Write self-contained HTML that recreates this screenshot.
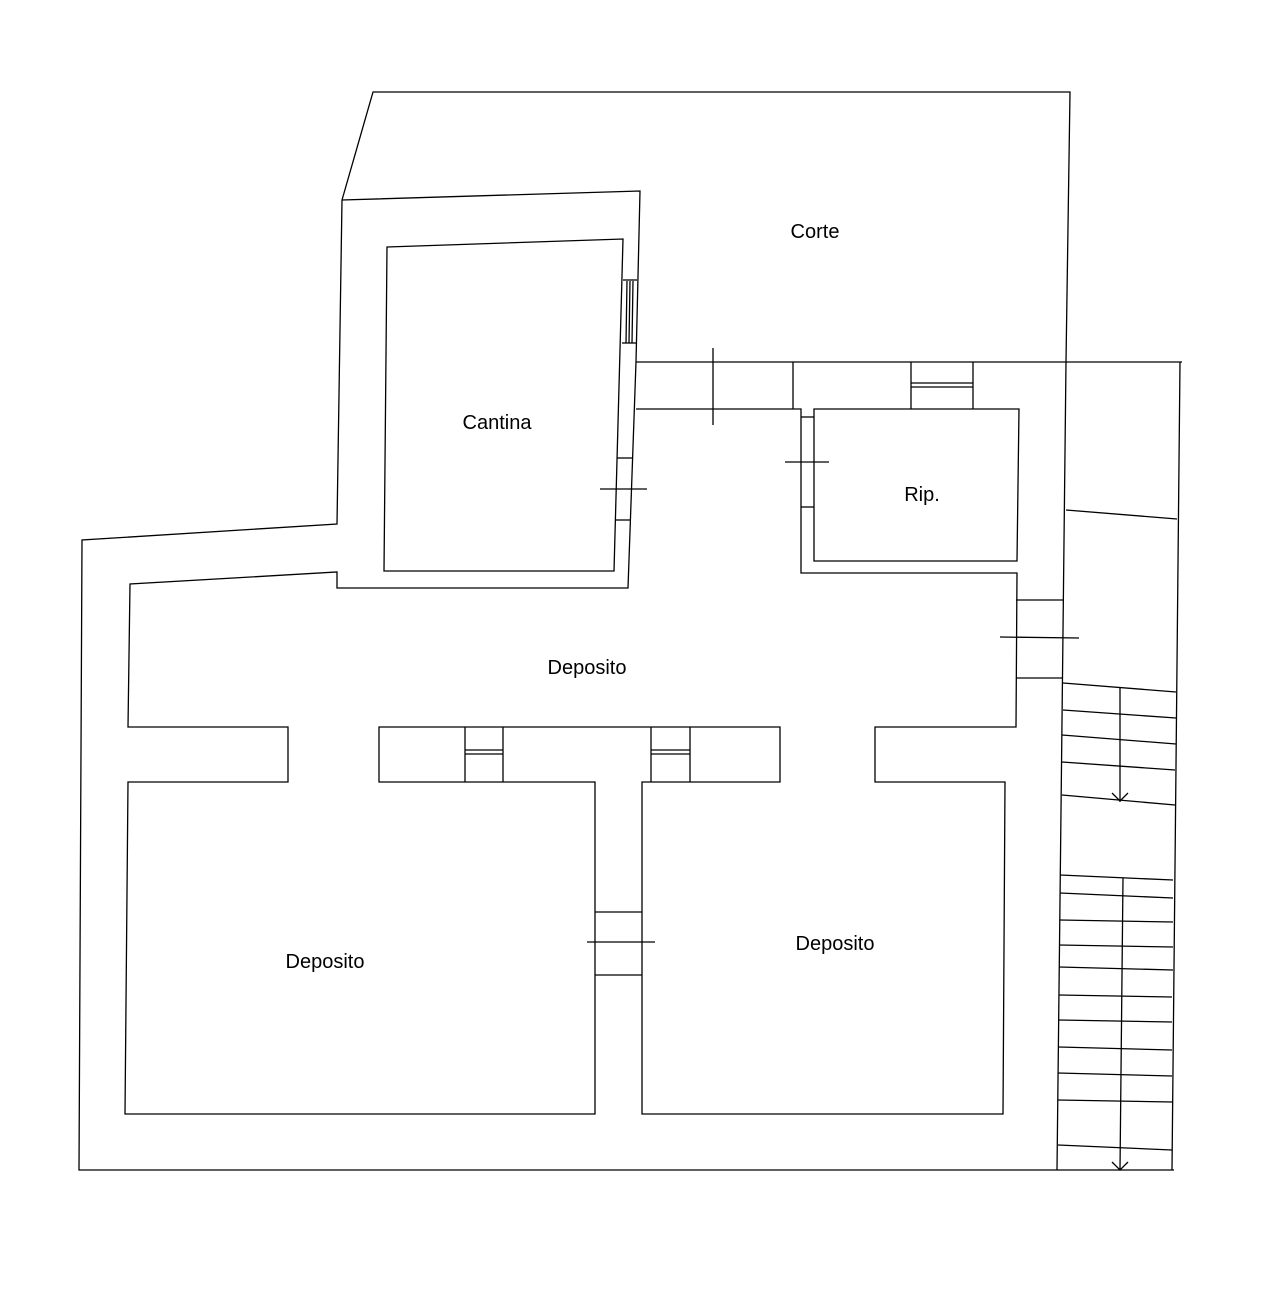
<!DOCTYPE html>
<html><head><style>body{margin:0;background:#fff}svg{display:block}</style></head><body>
<svg width="1278" height="1297" viewBox="0 0 1278 1297" xmlns="http://www.w3.org/2000/svg">
<rect width="1278" height="1297" fill="#fff"/>
<g fill="none" stroke="#000" stroke-width="1.3">
<polyline points="342,200 373,92 1070,92 1066,362 1057,1170"/>
<polyline points="342,200 640,191 636,362 628,588 337,588 337,572 130,584 128,727 288,727 288,782 128,782 125,1114 595,1114 595,782 379,782 379,727 780,727 780,782 642,782 642,1114 1003,1114 1005,782 875,782 875,727 1016,727 1017,573 801,573 801,409 636,409"/>
<polyline points="342,200 337,524 82,540 79,1170 1174,1170"/>
<polygon points="387,247 623,239 614,571 384,571"/>
<polygon points="814,409 1019,409 1017,561 814,561"/>
<line x1="636" y1="362" x2="1182" y2="362"/>
<line x1="1180" y1="362" x2="1172" y2="1170"/>
<line x1="793" y1="362" x2="793" y2="409"/>
<line x1="713" y1="348" x2="713" y2="425"/>
<line x1="911" y1="362" x2="911" y2="409"/>
<line x1="973" y1="362" x2="973" y2="409"/>
<line x1="911" y1="383" x2="973" y2="383"/>
<line x1="911" y1="387" x2="973" y2="387"/>
<line x1="623" y1="280" x2="637" y2="280"/>
<line x1="622" y1="343" x2="636" y2="343"/>
<line x1="627" y1="281" x2="626" y2="343"/>
<line x1="630" y1="281" x2="629" y2="343"/>
<line x1="633" y1="281" x2="632" y2="343"/>
<line x1="617" y1="458" x2="632" y2="458"/>
<line x1="616" y1="520" x2="631" y2="520"/>
<line x1="600" y1="489" x2="647" y2="489"/>
<line x1="801" y1="417" x2="814" y2="417"/>
<line x1="801" y1="507" x2="814" y2="507"/>
<line x1="785" y1="462" x2="829" y2="462"/>
<line x1="1016" y1="600" x2="1064" y2="600"/>
<line x1="1016" y1="678" x2="1063" y2="678"/>
<line x1="1000" y1="637" x2="1079" y2="638"/>
<line x1="465" y1="727" x2="465" y2="782"/>
<line x1="503" y1="727" x2="503" y2="782"/>
<line x1="465" y1="750" x2="503" y2="750"/>
<line x1="465" y1="754" x2="503" y2="754"/>
<line x1="651" y1="727" x2="651" y2="782"/>
<line x1="690" y1="727" x2="690" y2="782"/>
<line x1="651" y1="750" x2="690" y2="750"/>
<line x1="651" y1="754" x2="690" y2="754"/>
<line x1="595" y1="912" x2="642" y2="912"/>
<line x1="595" y1="975" x2="642" y2="975"/>
<line x1="587" y1="942" x2="655" y2="942"/>
<line x1="1066" y1="510" x2="1177" y2="519"/>
<line x1="1063" y1="683" x2="1176" y2="692"/>
<line x1="1063" y1="710" x2="1176" y2="718"/>
<line x1="1062" y1="735" x2="1176" y2="744"/>
<line x1="1062" y1="762" x2="1175" y2="770"/>
<line x1="1062" y1="795" x2="1175" y2="805"/>
<line x1="1120" y1="688" x2="1120" y2="802"/>
<polyline points="1112,793 1120,801 1128,793"/>
<line x1="1060" y1="875" x2="1173" y2="880"/>
<line x1="1060" y1="893" x2="1173" y2="898"/>
<line x1="1060" y1="920" x2="1173" y2="922"/>
<line x1="1059" y1="945" x2="1173" y2="947"/>
<line x1="1059" y1="967" x2="1173" y2="970"/>
<line x1="1059" y1="995" x2="1172" y2="997"/>
<line x1="1059" y1="1020" x2="1172" y2="1022"/>
<line x1="1059" y1="1047" x2="1172" y2="1050"/>
<line x1="1058" y1="1073" x2="1172" y2="1076"/>
<line x1="1058" y1="1100" x2="1172" y2="1102"/>
<line x1="1058" y1="1145" x2="1172" y2="1150"/>
<line x1="1123" y1="878" x2="1120" y2="1170"/>
<polyline points="1112,1162 1120,1170 1128,1162"/>
</g>
<g font-family="Liberation Sans, sans-serif" font-size="20" fill="#000" text-anchor="middle">
<text x="815" y="238">Corte</text>
<text x="497" y="429">Cantina</text>
<text x="922" y="501">Rip.</text>
<text x="587" y="674">Deposito</text>
<text x="325" y="968">Deposito</text>
<text x="835" y="950">Deposito</text>
</g>
</svg>
</body></html>
